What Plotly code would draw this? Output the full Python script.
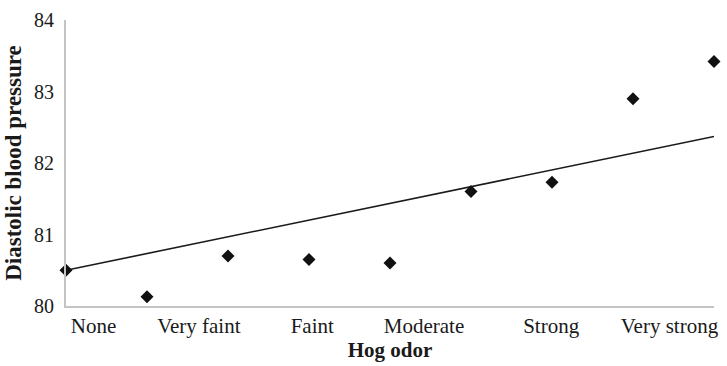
import plotly.graph_objects as go

# Data
odor_index = [0, 1, 2, 3, 4, 5, 6, 7, 8]
dbp_values = [80.5, 80.13, 80.7, 80.65, 80.6, 81.6, 81.73, 82.9, 83.42]
trend_x = [0, 8]
trend_y = [80.5, 82.37]
tick_labels = ["None", "Very faint", "Faint", "Moderate", "Strong", "Very strong"]
tick_positions = [0.34, 1.64, 3.04, 4.42, 5.99, 7.45]
y_ticks = [80, 81, 82, 83, 84]

FONT = "Liberation Serif"

fig = go.Figure()
fig.add_trace(go.Scatter(
    x=trend_x, y=trend_y, mode="lines",
    line=dict(color="#1a1a1a", width=1.6),
    hoverinfo="skip", showlegend=False, cliponaxis=False,
))
fig.add_trace(go.Scatter(
    x=odor_index, y=dbp_values, mode="markers",
    marker=dict(symbol="diamond", size=10, color="#111111"),
    showlegend=False, cliponaxis=False,
))

fig.update_layout(
    width=727, height=366,
    margin=dict(l=66, r=9, t=20, b=58),
    paper_bgcolor="white", plot_bgcolor="white",
    font=dict(family=FONT, color="#1a1a1a", size=21),
)
fig.update_xaxes(
    range=[0, 8], tickmode="array", tickvals=tick_positions, ticktext=tick_labels,
    showgrid=False, zeroline=False, showline=True, linecolor="#c4c4c4", linewidth=2,
    ticks="", tickfont=dict(family=FONT, size=21),
    title=dict(text="<b>Hog odor</b>", font=dict(family=FONT, size=21), standoff=4),
)
fig.update_yaxes(
    range=[80, 84], tickmode="array", tickvals=y_ticks,
    showgrid=False, zeroline=False, showline=True, linecolor="#c4c4c4", linewidth=2,
    ticks="", tickfont=dict(family=FONT, size=20), ticklabelstandoff=6,
    title=dict(text="<b>Diastolic blood pressure</b>", font=dict(family=FONT, size=23), standoff=6),
)

fig.write_html("out.html")
